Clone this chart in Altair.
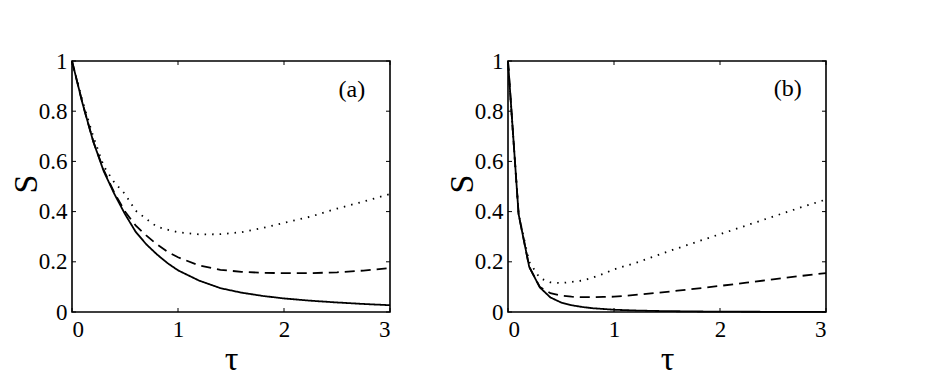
import altair as alt
import pandas as pd

# ---- data ----
tau = [0, 0.1, 0.2, 0.3, 0.4, 0.5, 0.6, 0.7, 0.8, 0.9, 1.0,
       1.2, 1.4, 1.6, 1.8, 2.0, 2.25, 2.5, 2.75, 3.0]

a_solid = [1.0, 0.83, 0.68, 0.56, 0.47, 0.39, 0.32, 0.27, 0.23, 0.195, 0.166,
           0.125, 0.095, 0.077, 0.064, 0.054, 0.045, 0.038, 0.032, 0.027]
a_dashed = [1.0, 0.83, 0.68, 0.565, 0.475, 0.40, 0.345, 0.305, 0.27, 0.24, 0.218,
            0.185, 0.168, 0.16, 0.156, 0.155, 0.155, 0.158, 0.165, 0.175]
a_dotted = [1.0, 0.84, 0.70, 0.58, 0.516, 0.47, 0.404, 0.371, 0.34, 0.328, 0.318,
            0.309, 0.31, 0.318, 0.335, 0.355, 0.38, 0.412, 0.44, 0.47]

b_solid = [1.0, 0.39, 0.18, 0.098, 0.058, 0.038, 0.027, 0.02, 0.015, 0.012, 0.009,
           0.006, 0.004, 0.003, 0.002, 0.0015, 0.001, 0.0008, 0.0006, 0.0004]
b_dashed = [1.0, 0.39, 0.18, 0.10, 0.075, 0.065, 0.061, 0.059, 0.059, 0.06, 0.061,
            0.068, 0.076, 0.085, 0.094, 0.104, 0.117, 0.13, 0.143, 0.155]
b_dotted = [1.0, 0.39, 0.20, 0.135, 0.118, 0.115, 0.12, 0.125, 0.137, 0.152, 0.17,
            0.195, 0.225, 0.254, 0.282, 0.31, 0.345, 0.38, 0.415, 0.448]

styles = ["solid", "dashed", "dotted"]
x_ticks = [0, 1, 2, 3]
y_ticks = [0, 0.2, 0.4, 0.6, 0.8, 1]
panel_labels = ["(a)", "(b)"]
label_tau = [2.64, 2.64]
label_S = [0.885, 0.89]

W, H = 318, 251
FONT = "Liberation Serif"


def long_df(series):
    rows = []
    for name, vals in zip(styles, series):
        for t, s in zip(tau, vals):
            rows.append({"tau": t, "S": s, "style": name})
    return pd.DataFrame(rows)


def panel(series, idx):
    df = long_df(series)
    xs = alt.Scale(domain=[0, 3], nice=False)
    ys = alt.Scale(domain=[0, 1], nice=False)
    x = alt.X("tau:Q", scale=xs,
              axis=alt.Axis(values=x_ticks, format="~g", title="τ", titleX=W / 2,
                            titleY=47, titleBaseline="middle", labelPadding=6))
    y = alt.Y("S:Q", scale=ys,
              axis=alt.Axis(values=y_ticks, format="~g", title="S", titleX=-46,
                            titleY=H / 2 - 3, titleBaseline="middle", labelPadding=5))
    lines = alt.Chart(df).mark_line(color="black").encode(
        x=x, y=y, detail="style:N",
        strokeDash=alt.StrokeDash("style:N", legend=None,
                                  scale=alt.Scale(domain=styles,
                                                  range=[[1, 0], [10, 6], [1.5, 6]])),
        strokeWidth=alt.StrokeWidth("style:N", legend=None,
                                    scale=alt.Scale(domain=styles, range=[1.8, 1.8, 1.6])),
    )
    xt = pd.DataFrame({"tau": x_ticks})
    yt = pd.DataFrame({"S": y_ticks})
    tb = alt.Chart(xt).mark_rule(color="black", strokeWidth=1).encode(
        x="tau:Q", y=alt.value(H), y2=alt.value(H - 4))
    tt = alt.Chart(xt).mark_rule(color="black", strokeWidth=1).encode(
        x="tau:Q", y=alt.value(0), y2=alt.value(4))
    tl = alt.Chart(yt).mark_rule(color="black", strokeWidth=1).encode(
        y="S:Q", x=alt.value(0), x2=alt.value(4))
    tr = alt.Chart(yt).mark_rule(color="black", strokeWidth=1).encode(
        y="S:Q", x=alt.value(W), x2=alt.value(W - 4))
    lab = pd.DataFrame({"tau": [label_tau[idx]], "S": [label_S[idx]],
                        "t": [panel_labels[idx]]})
    txt = alt.Chart(lab).mark_text(font=FONT, fontSize=24, color="black").encode(
        x="tau:Q", y="S:Q", text="t:N")
    return alt.layer(lines, tb, tt, tl, tr, txt).properties(width=W, height=H)


pa = panel([a_solid, a_dashed, a_dotted], 0)
pb = panel([b_solid, b_dashed, b_dotted], 1)

chart = alt.hconcat(pa, pb, spacing=118, bounds="flush").properties(
    padding={"left": 0, "top": 41, "right": 0, "bottom": 0}
).configure_view(
    stroke="black", strokeWidth=1.6
).configure_axis(
    labelFont=FONT, labelFontSize=23, labelColor="black",
    titleFont=FONT, titleFontSize=34, titleFontWeight="normal", titleColor="black",
    ticks=False, domain=False, grid=False
)

chart.save("out.html", embed_options={"renderer": "svg", "actions": False})
